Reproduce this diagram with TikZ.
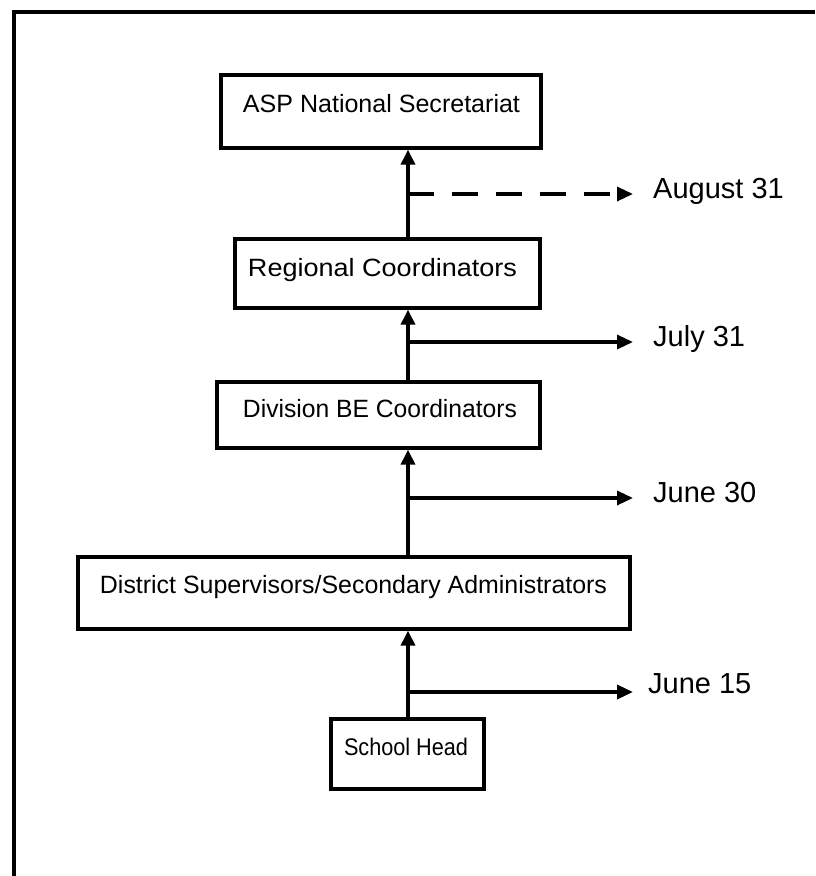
\documentclass[tikz,border=0pt]{standalone}
\usepackage{fontspec}
\setmainfont{Liberation Sans}
\usetikzlibrary{arrows.meta}
\begin{document}
\begin{tikzpicture}[x=1pt,y=-1pt,
  boxnode/.style={draw=black, line width=3.3pt, fill=none, inner sep=0pt},
  boxtext/.style={anchor=base, inner sep=0pt, font=\fontsize{25}{30}\selectfont},
  datetext/.style={anchor=base west, inner sep=0pt, font=\fontsize{29}{34}\selectfont},
  uparrow/.style={line width=3.3pt, -{Triangle[length=15pt,width=14pt]}},
  sidearrow/.style={line width=3.3pt, -{Triangle[length=16pt,width=14pt]}},
  dasharrow/.style={sidearrow, dash pattern=on 26pt off 18pt}]
\useasboundingbox (0,0) rectangle (815,876);
% frame
\draw[line width=3.3pt] (14,876) -- (14,12) -- (815,12);
% boxes
\node[boxnode, minimum width=320pt, minimum height=73pt] (asp) at (381,111.5) {};
\node[boxnode, minimum width=305pt, minimum height=69pt] (reg) at (387.5,273.5) {};
\node[boxnode, minimum width=323pt, minimum height=66pt] (div) at (378.5,415) {};
\node[boxnode, minimum width=552pt, minimum height=72pt] (dist) at (354,593) {};
\node[boxnode, minimum width=153pt, minimum height=70pt] (school) at (407.5,754) {};
% box texts
\node[boxtext] (aspt) at (381.5,112) {\resizebox{277pt}{\height}{ASP National Secretariat}};
\node[boxtext] (regt) at (382.5,276) {\resizebox{269pt}{\height}{Regional Coordinators}};
\node[boxtext] (divt) at (380,417) {\resizebox{274pt}{\height}{Division BE Coordinators}};
\node[boxtext] (distt) at (353.5,593) {\resizebox{507pt}{\height}{District Supervisors/Secondary Administrators}};
\node[boxtext, font=\fontsize{24}{29}\selectfont] (schoolt) at (406,755) {\resizebox{124pt}{\height}{School Head}};
% vertical connectors
\coordinate (vx) at (408,0);
\draw[uparrow] (reg.north -| vx) -- (asp.south -| vx);
\draw[uparrow] (div.north -| vx) -- (reg.south -| vx);
\draw[uparrow] (dist.north -| vx) -- (div.south -| vx);
\draw[uparrow] (school.north -| vx) -- (dist.south -| vx);
% side branches
\coordinate (b1) at (408,194); \coordinate (e1) at (633,194);
\coordinate (b2) at (408,342); \coordinate (e2) at (633,342);
\coordinate (b3) at (408,498); \coordinate (e3) at (633,498);
\coordinate (b4) at (408,692); \coordinate (e4) at (633,692);
\draw[dasharrow] (b1) -- (e1);
\draw[sidearrow] (b2) -- (e2);
\draw[sidearrow] (b3) -- (e3);
\draw[sidearrow] (b4) -- (e4);
% date labels
\node[datetext] (d1) at (653,198) {August 31};
\node[datetext] (d2) at (653,346) {July 31};
\node[datetext] (d3) at (653,502) {June 30};
\node[datetext] (d4) at (648,693) {June 15};
\end{tikzpicture}
\end{document}
